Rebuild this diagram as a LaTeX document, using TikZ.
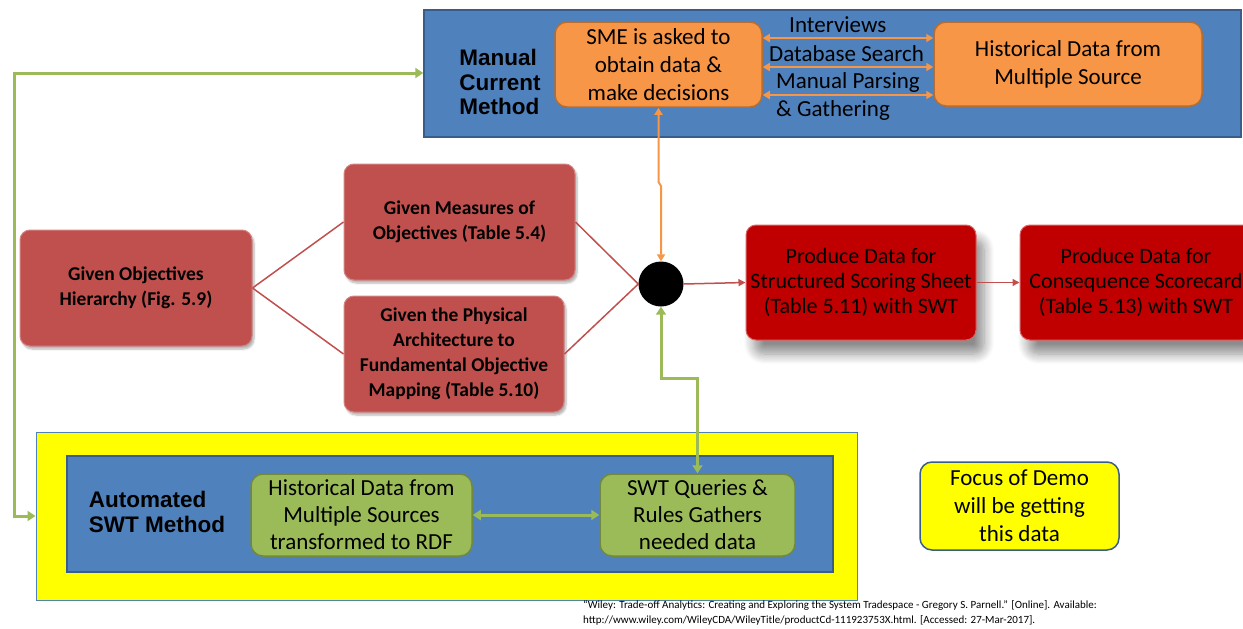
\documentclass[tikz,border=0pt]{standalone}
\usepackage{fontspec}
\setmainfont{Carlito}
\newfontfamily\arialb{Liberation Sans}
\usetikzlibrary{shadows,shadows.blur,arrows.meta}
\definecolor{blueF}{HTML}{4F81BD}
\definecolor{blueD}{HTML}{385D8A}
\definecolor{orangeF}{HTML}{F79646}
\definecolor{orangeD}{HTML}{B66D31}
\definecolor{redF}{HTML}{C0504D}
\definecolor{darkred}{HTML}{C00000}
\definecolor{greenF}{HTML}{9BBB59}
\definecolor{greenD}{HTML}{71893F}
\definecolor{yel}{HTML}{FFFF00}
\tikzset{
  panel/.style={draw=blueD, line width=1.5pt, fill=blueF},
  obox/.style={draw=orangeD, line width=1.5pt, fill=orangeF, rounded corners=12pt, align=center, font=\fontsize{23}{28}\selectfont, inner sep=0pt},
  rbox/.style={draw=redF!70!white, line width=1pt, fill=redF, rounded corners=10pt, align=center, font=\bfseries\fontsize{19.5}{25}\selectfont, inner sep=0pt, blur shadow={shadow xshift=2pt, shadow yshift=-3pt, shadow blur steps=6, shadow opacity=30}},
  pbox/.style={draw=darkred!60!white, line width=1pt, fill=darkred, rounded corners=10pt, align=center, font=\fontsize{22}{25}\selectfont, inner sep=0pt, blur shadow={shadow xshift=8pt, shadow yshift=-14pt, shadow blur steps=10, shadow blur radius=10pt, shadow opacity=45}},
  gbox/.style={draw=greenD, line width=1.5pt, fill=greenF, rounded corners=12pt, align=center, font=\fontsize{23}{27}\selectfont, inner sep=0pt},
  lbl/.style={font=\arialb\bfseries\fontsize{22.5}{24.5}\selectfont, align=left},
  oarr/.style={draw=orangeF, line width=2pt, {Triangle[length=7pt,width=8pt]}-{Triangle[length=7pt,width=8pt]}},
  garr/.style={draw=greenF, line width=3pt, {Triangle[length=8pt,width=10pt]}-{Triangle[length=8pt,width=10pt]}},
  rline/.style={draw=redF, line width=1.5pt},
  rarr/.style={draw=redF, line width=1.5pt, -{Triangle[length=7pt,width=7pt]}},
  olbl/.style={font=\fontsize{23}{24}\selectfont, anchor=west, inner sep=0pt}
}
\begin{document}
\begin{tikzpicture}[x=1pt,y=-1pt]
\useasboundingbox (0,0) rectangle (1243,629);
% manual panel
\node[panel, minimum width=817pt, minimum height=127pt, inner sep=0pt] (manual) at (832.5,73.5) {};
\node[lbl] (mlabel) at (500,82) {Manual\\Current\\Method};
\node[obox, minimum width=207pt, minimum height=85pt] (sme) at (658.5,64.5) {SME is asked to\\obtain data \& \\make decisions};
\node[obox, minimum width=268pt, minimum height=84pt] (hist) at (1068,64) {Historical Data from\\Multiple Source};
\draw[oarr] (sme.east |- 0,38) -- (hist.west |- 0,38);
\draw[oarr] (sme.east |- 0,67) -- (hist.west |- 0,67);
\draw[oarr] (sme.east |- 0,95) -- (hist.west |- 0,95);
\node[olbl] (t1) at (789,25) {Interviews};
\node[olbl] (t2) at (769,54) {Database Search};
\node[olbl] (t3) at (776,82) {Manual Parsing};
\node[olbl] (t4) at (776,110) {\& Gathering};
% circle
\node[circle, fill=black, minimum size=45pt, inner sep=0pt] (circ) at (661,284) {};
% red boxes
\node[rbox, minimum width=232pt, minimum height=116pt] (hier) at (136,288) {Given Objectives\\Hierarchy (Fig. 5.9)};
\node[rbox, minimum width=231pt, minimum height=116pt] (meas) at (459.5,222) {Given Measures of\\Objectives (Table 5.4)};
\node[rbox, minimum width=220pt, minimum height=116pt] (phys) at (454,354) {Given the Physical\\Architecture to\\Fundamental Objective\\Mapping (Table 5.10)};
\draw[rline] (hier.east) -- (meas.west);
\draw[rline] (hier.east) -- (phys.west);
\draw[rline] (meas.east) -- (circ.west);
\draw[rline] (phys.east) -- (circ.west);
\node[pbox, minimum width=230pt, minimum height=115pt] (prod1) at (861,282.5) {Produce Data for\\Structured Scoring Sheet\\(Table 5.11) with SWT};
\node[pbox, minimum width=232pt, minimum height=115pt] (prod2) at (1136,282.5) {Produce Data for\\Consequence Scorecard\\(Table 5.13) with SWT};
\draw[rarr] (circ.east) -- (prod1.west);
\draw[rarr] (prod1.east) -- (prod2.west);
% orange vertical
\draw[oarr] (sme.south) -- (658.5,182) -- (661,186) -- (circ.north);
% automated panel
\node[draw=blueF, line width=1pt, fill=yel, minimum width=821pt, minimum height=168pt, inner sep=0pt] (outer) at (446.5,516) {};
\node[panel, minimum width=766pt, minimum height=116pt, inner sep=0pt] (auto) at (450,514) {};
\node[lbl] (alabel) at (157,512) {Automated\\SWT Method};
\node[gbox, minimum width=221pt, minimum height=82pt] (hist2) at (361.5,515) {Historical Data from\\Multiple Sources\\transformed to RDF};
\node[gbox, minimum width=195pt, minimum height=82pt] (swt) at (697.5,515) {SWT Queries \& \\Rules Gathers\\needed data};
\draw[garr] (hist2.east) -- (swt.west);
\draw[garr] (circ.south) -- (circ.south |- 0,378) -- (swt.north |- 0,378) -- (swt.north);
\draw[garr] (manual.west |- 0,73) -- (14,73) -- (14,516) -- (outer.west);
% focus
\node[draw=blueD, line width=1.5pt, fill=yel, rounded corners=12pt, minimum width=199pt, minimum height=88pt, align=center, font=\fontsize{23}{28}\selectfont, inner sep=0pt] (focus) at (1019.5,506) {Focus of Demo\\will be getting\\this data};
% citation
\node[anchor=north west, align=left, font=\fontsize{11}{15}\selectfont, inner sep=0pt] (cite) at (583,600) {``Wiley: Trade-off Analytics: Creating and Exploring the System Tradespace - Gregory S. Parnell.'' [Online]. Available: \\http://www.wiley.com/WileyCDA/WileyTitle/productCd-111923753X.html. [Accessed: 27-Mar-2017].};
\end{tikzpicture}
\end{document}
